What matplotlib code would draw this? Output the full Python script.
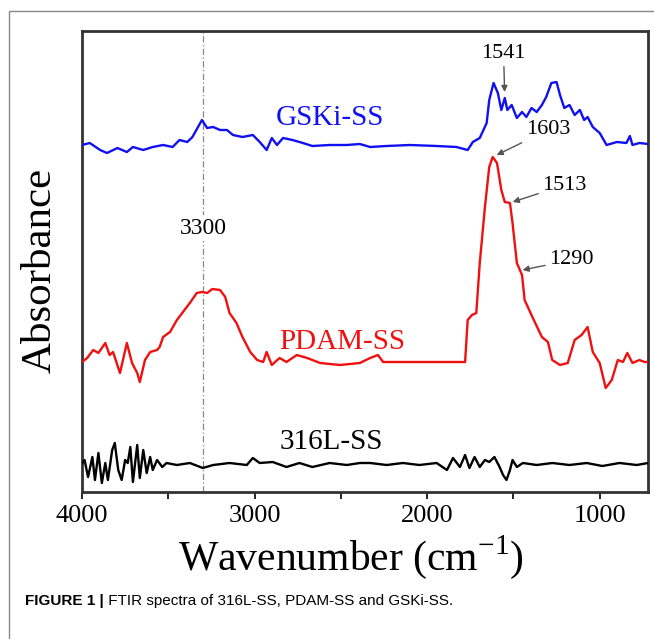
import matplotlib
matplotlib.use("Agg")
import matplotlib.pyplot as plt
from matplotlib.patches import Rectangle

# GSKi-SS (blue); absorbance in arbitrary units
gski_wn = [4000, 3955, 3895, 3855, 3795, 3740, 3705, 3645, 3590, 3530,
           3475, 3435, 3390, 3360, 3305, 3275, 3240, 3200, 3160, 3125,
           3070, 3010, 2970, 2930, 2900, 2870, 2835, 2780, 2720, 2665,
           2565, 2465, 2390, 2330, 2235, 2100, 1945, 1830, 1765, 1735,
           1695, 1655, 1640, 1615, 1590, 1570, 1550, 1535, 1510, 1480,
           1450, 1425, 1395, 1365, 1335, 1310, 1280, 1250, 1230, 1205,
           1175, 1145, 1115, 1090, 1070, 1040, 1000, 960, 900, 845,
           825, 810, 770, 720]
gski_abs = [347, 349, 342, 339, 344, 340, 345, 342, 345, 347,
            345, 352, 350, 355, 372, 364, 365, 362, 362, 357,
            355, 357, 350, 342, 354, 347, 354, 352, 349, 346,
            347, 347, 348, 345, 346, 347, 346, 345, 342, 350,
            354, 369, 392, 409, 399, 382, 394, 382, 387, 374,
            380, 375, 384, 380, 387, 395, 409, 410, 397, 384,
            387, 377, 382, 372, 375, 365, 359, 347, 350, 349,
            356, 347, 349, 348]

# PDAM-SS (red)
pdam_wn = [4000, 3970, 3935, 3905, 3865, 3840, 3820, 3780, 3740, 3710,
           3680, 3665, 3635, 3605, 3565, 3550, 3530, 3490, 3450, 3415,
           3375, 3335, 3305, 3275, 3245, 3200, 3170, 3145, 3105, 3070,
           3025, 2985, 2950, 2930, 2900, 2855, 2815, 2755, 2695, 2620,
           2505, 2390, 2330, 2285, 2255, 2140, 1945, 1780, 1765, 1740,
           1715, 1695, 1665, 1640, 1620, 1595, 1570, 1550, 1520, 1505,
           1480, 1450, 1435, 1390, 1335, 1300, 1275, 1230, 1185, 1145,
           1105, 1070, 1040, 1000, 965, 930, 895, 865, 840, 810,
           770, 740, 720]
pdam_abs = [130, 134, 142, 139, 149, 137, 140, 119, 149, 129,
            119, 110, 132, 140, 142, 145, 155, 160, 172, 180,
            189, 199, 200, 199, 203, 202, 195, 179, 169, 155,
            140, 132, 130, 140, 127, 134, 130, 137, 134, 129,
            127, 129, 134, 137, 130, 130, 130, 130, 172, 177,
            179, 229, 285, 325, 335, 329, 302, 290, 289, 269,
            229, 217, 192, 175, 155, 150, 132, 127, 129, 152,
            157, 165, 140, 129, 104, 112, 132, 130, 139, 129,
            132, 130, 130]

# 316L-SS (black)
ss_wn = [4000, 3985, 3965, 3940, 3925, 3905, 3885, 3865, 3850, 3825,
         3810, 3790, 3770, 3750, 3735, 3720, 3705, 3680, 3665, 3645,
         3625, 3605, 3590, 3565, 3535, 3510, 3450, 3375, 3300, 3240,
         3145, 3045, 3010, 2970, 2895, 2815, 2740, 2665, 2565, 2465,
         2390, 2330, 2235, 2140, 2045, 1945, 1885, 1850, 1810, 1780,
         1755, 1725, 1695, 1665, 1640, 1610, 1580, 1560, 1540, 1520,
         1505, 1480, 1445, 1365, 1275, 1175, 1075, 985, 885, 785,
         720]
ss_abs = [29, 32, 15, 35, 12, 39, 9, 29, 12, 42,
          49, 22, 12, 32, 29, 45, 10, 47, 14, 42,
          19, 35, 22, 32, 25, 29, 27, 29, 24, 27,
          29, 27, 34, 29, 30, 25, 29, 25, 29, 27,
          29, 29, 27, 29, 27, 29, 22, 34, 25, 37,
          24, 35, 25, 32, 30, 35, 25, 17, 12, 22,
          32, 25, 29, 27, 29, 27, 29, 26, 29, 27,
          29]

xticks = [4000, 3500, 3000, 2500, 2000, 1500, 1000]
xtick_labels = ["4000", "", "3000", "", "2000", "", "1000"]

SERIF = "Liberation Serif"

fig = plt.figure(figsize=(6.54, 6.39), dpi=100)
ax = fig.add_axes([82 / 654, 1 - 492 / 639, 566 / 654, 461 / 639])

ax.plot(gski_wn, gski_abs, color="#1010f0", lw=1.7, zorder=3)
ax.plot(pdam_wn, pdam_abs, color="#f01010", lw=1.7, zorder=3)
ax.plot(ss_wn, ss_abs, color="black", lw=1.7, zorder=3)

ax.axvline(3300, color="#888888", lw=0.9, ls=(0, (5, 2, 1, 2)), zorder=1)

ax.set_xlim(4000, 720)
ax.set_ylim(0, 461)
ax.set_yticks([])
ax.set_xticks(xticks)
ax.set_xticklabels(xtick_labels, fontfamily=SERIF, fontsize=19)
ax.tick_params(axis="x", direction="out", length=5, width=1.2, pad=4)
for s in ax.spines.values():
    s.set_linewidth(2)
    s.set_color("#333333")

ax.set_xlabel("Wavenumber (cm$^{\\mathregular{-1}}$)", fontfamily=SERIF, fontsize=30)
ax.xaxis.set_label_coords(0.475, -0.09)
ax.set_ylabel("Absorbance", fontfamily=SERIF, fontsize=31)
ax.yaxis.set_label_coords(-0.04, 0.48)

# series labels
ax.text(2564, 374, "GSKi-SS", color="#1010f0", fontfamily=SERIF, fontsize=21,
        ha="center", va="center")
ax.text(2495, 150, "PDAM-SS", color="#f01010", fontfamily=SERIF, fontsize=21,
        ha="center", va="center")
ax.text(2558, 50, "316L-SS", color="black", fontfamily=SERIF, fontsize=21,
        ha="center", va="center")
ax.text(3294, 264, "3300", fontfamily=SERIF, fontsize=17, ha="center", va="center",
        zorder=2, bbox=dict(fc="white", ec="none", pad=2))

# peak annotations
arrow = dict(arrowstyle="-|>", color="#555555", lw=1.0, mutation_scale=9,
             shrinkA=1, shrinkB=0)
ax.annotate("1541", xy=(1551, 400), xytext=(1557, 439), fontfamily=SERIF,
            fontsize=16, ha="center", va="center", arrowprops=arrow)
ax.annotate("1603", xy=(1597, 337), xytext=(1300, 362), fontfamily=SERIF,
            fontsize=16, ha="center", va="center", arrowprops=arrow)
ax.annotate("1513", xy=(1504, 290), xytext=(1203, 307), fontfamily=SERIF,
            fontsize=16, ha="center", va="center", arrowprops=arrow)
ax.annotate("1290", xy=(1447, 222), xytext=(1163, 232), fontfamily=SERIF,
            fontsize=16, ha="center", va="center", arrowprops=arrow)

# panel frame + caption
fig.patches.append(Rectangle((9 / 654, -0.1), 1.2, 1.1 - 11 / 639, fill=False,
                             ec="#888888", lw=1.0, transform=fig.transFigure))
cap = fig.text(25 / 654, 1 - 601 / 639, "FIGURE 1 |", fontfamily="Liberation Sans",
               fontweight="bold", fontsize=11, va="center", ha="left")
fig.text(0, 0, " FTIR spectra of 316L-SS, PDAM-SS and GSKi-SS.",
         fontfamily="Liberation Sans", fontsize=11, va="center", ha="left",
         transform=None)
fig.canvas.draw()
bb = cap.get_window_extent()
fig.texts[-1].set_position((bb.x1, (bb.y0 + bb.y1) / 2))

fig.savefig("out.png", dpi=100)
